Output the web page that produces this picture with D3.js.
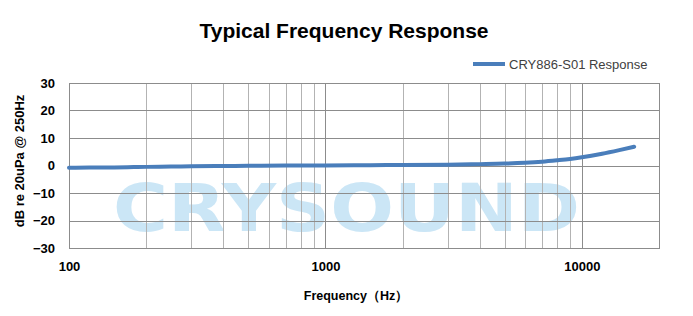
<!DOCTYPE html>
<html>
<head>
<meta charset="utf-8">
<script src="https://cdn.jsdelivr.net/npm/d3@7"></script>
<style>
  body { margin: 0; background: #fff; }
  text { font-family: "Liberation Sans", Arial, sans-serif; }
</style>
</head>
<body>
<svg id="chart" width="693" height="316"></svg>
<script>
// values
var freqs = [100, 120, 150, 200, 250, 300, 400, 500, 700, 1000, 1500, 2000, 3000, 4000, 5000, 6000, 7000, 8000, 9000, 10000, 12000, 14000, 16000];
var dbValues = [-0.8, -0.7, -0.7, -0.5, -0.4, -0.3, -0.2, -0.1, 0, 0, 0.1, 0.2, 0.3, 0.5, 0.7, 1.0, 1.4, 1.9, 2.4, 3.0, 4.3, 5.6, 6.8];
var yTicks = [30, 20, 10, 0, -10, -20, -30];
var xTicks = [100, 1000, 10000];
var minorTicks = [200, 300, 400, 500, 600, 700, 800, 900, 2000, 3000, 4000, 5000, 6000, 7000, 8000, 9000];

var svg = d3.select("#chart"),
    margin = {top: 83, right: 34, bottom: 68, left: 69},
    width = +svg.attr("width") - margin.left - margin.right,
    height = +svg.attr("height") - margin.top - margin.bottom;

var x = d3.scaleLog().domain([100, 20000]).range([0, width]),
    y = d3.scaleLinear().domain([-30, 30]).range([height, 0]);

svg.append("text")
    .attr("x", 344).attr("y", 38)
    .attr("text-anchor", "middle")
    .style("font-size", "21px").style("font-weight", "bold")
    .text("Typical Frequency Response");

// legend
svg.append("line")
    .attr("x1", 473).attr("x2", 505).attr("y1", 64).attr("y2", 64)
    .attr("stroke", "#4a7ebb").attr("stroke-width", 4);
svg.append("text")
    .attr("x", 509).attr("y", 68.5)
    .style("font-size", "13px").attr("fill", "#404040")
    .text("CRY886-S01 Response");

var g = svg.append("g")
    .attr("transform", "translate(" + margin.left + "," + margin.top + ")");

// watermark
g.append("text")
    .attr("x", 44).attr("y", 148)
    .attr("textLength", 467).attr("lengthAdjust", "spacingAndGlyphs")
    .style("font-family", "'DejaVu Sans', sans-serif")
    .style("font-size", "66px").style("font-weight", "bold")
    .attr("fill", "#cbe6f6")
    .text("CRYSOUND");

// grid
g.selectAll(".vminor")
  .data(minorTicks)
  .enter().append("line")
    .attr("x1", function(d) { return Math.round(x(d)) + 0.5; })
    .attr("x2", function(d) { return Math.round(x(d)) + 0.5; })
    .attr("y1", 0).attr("y2", height)
    .attr("stroke", "#b3b3b3").attr("stroke-width", 1);

g.selectAll(".vmajor")
  .data(xTicks)
  .enter().append("line")
    .attr("x1", function(d) { return Math.round(x(d)) + 0.5; })
    .attr("x2", function(d) { return Math.round(x(d)) + 0.5; })
    .attr("y1", 0).attr("y2", height)
    .attr("stroke", "#8c8c8c").attr("stroke-width", 1);

g.selectAll(".hgrid")
  .data(yTicks)
  .enter().append("line")
    .attr("x1", 0).attr("x2", width)
    .attr("y1", function(d) { return Math.round(y(d)) + 0.5; })
    .attr("y2", function(d) { return Math.round(y(d)) + 0.5; })
    .attr("stroke", "#8c8c8c").attr("stroke-width", 1);

g.append("rect")
    .attr("x", 0.5).attr("y", 0.5)
    .attr("width", width).attr("height", height)
    .attr("fill", "none").attr("stroke", "#8c8c8c");

// axes labels
var yAxis = g.append("g")
    .call(d3.axisLeft(y).tickValues(yTicks).tickSize(0).tickPadding(14).tickFormat(d3.format("d")));
yAxis.select(".domain").remove();
yAxis.selectAll("text")
    .style("font-family", "'Liberation Sans', Arial, sans-serif")
    .style("font-size", "13px").style("font-weight", "bold").attr("fill", "#000");

var xAxis = g.append("g")
    .attr("transform", "translate(0," + height + ")")
    .call(d3.axisBottom(x).tickValues(xTicks).tickSize(0).tickPadding(14).tickFormat(d3.format("d")));
xAxis.select(".domain").remove();
xAxis.selectAll("text")
    .style("font-family", "'Liberation Sans', Arial, sans-serif")
    .style("font-size", "13px").style("font-weight", "bold").attr("fill", "#000");

svg.append("text")
    .attr("x", 356).attr("y", 300)
    .attr("text-anchor", "middle")
    .style("font-size", "12.5px").style("font-weight", "bold")
    .text("Frequency（Hz）");

svg.append("text")
    .attr("transform", "translate(24,161) rotate(-90)")
    .attr("text-anchor", "middle")
    .style("font-size", "13px").style("font-weight", "bold")
    .text("dB re 20uPa @ 250Hz");

// curve
var line = d3.line()
    .curve(d3.curveMonotoneX)
    .x(function(d, i) { return x(freqs[i]); })
    .y(function(d) { return y(d); });

g.append("path")
    .datum(dbValues)
    .attr("fill", "none")
    .attr("stroke", "#4a7ebb")
    .attr("stroke-width", 4)
    .attr("stroke-linecap", "round")
    .attr("d", line);
</script>
</body>
</html>
